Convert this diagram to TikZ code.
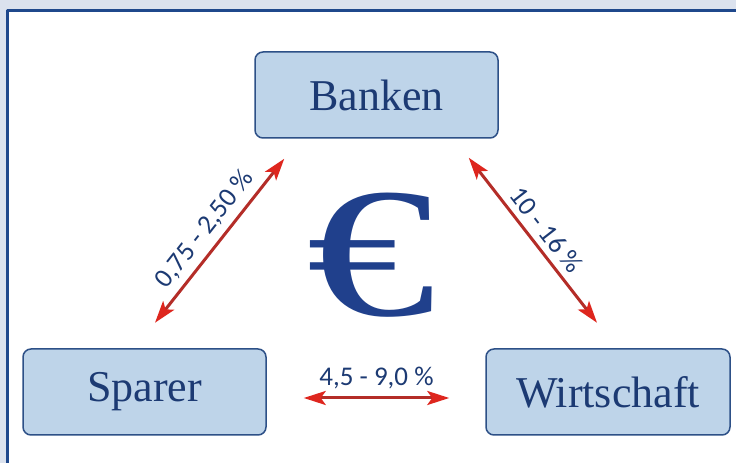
\documentclass[tikz,border=0pt]{standalone}
\usepackage{fontspec}
\usetikzlibrary{arrows.meta}
\newfontfamily\pctfont{Carlito}
\newfontfamily\eurofont{Liberation Serif}
\definecolor{backgr}{RGB}{219,226,238}
\definecolor{framec}{RGB}{31,72,140}
\definecolor{boxfill}{RGB}{190,212,233}
\definecolor{boxline}{RGB}{45,80,135}
\definecolor{textblue}{RGB}{28,58,115}
\definecolor{shaftred}{RGB}{180,45,40}
\definecolor{tipred}{RGB}{222,38,30}
\definecolor{eurob}{RGB}{32,64,140}

\begin{document}
\begin{tikzpicture}[line cap=round,line join=round,x=1pt,y=1pt,
  sector/.style={draw=boxline,line width=1.5pt,fill=boxfill,rounded corners=8pt,
    minimum width=243pt,minimum height=86pt,text=textblue,
    font=\eurofont\fontsize{44}{50}\selectfont},
  flow/.style={{Stealth[length=22pt,width=14pt,inset=5pt,color=tipred]}-{Stealth[length=22pt,width=14pt,inset=5pt,color=tipred]},
    draw=shaftred,line width=3pt},
  rate/.style={text=textblue,font=\pctfont\fontsize{27}{30}\selectfont}]
\useasboundingbox (0,0) rectangle (736,463);
\clip (0,0) rectangle (736,463);
% background and frame
\fill [backgr] (0,0) rectangle (736,463);
\draw [framec, line width=3pt, fill=white] (7.5,-20) rectangle (760,452.5);
% the three sectors
\node [sector] (banken) at (376.5,368) {Banken};
\node [sector] (sparer) at (144.5,71) {Sparer};
\node [sector, minimum width=244pt] (wirtschaft) at (608,71) {Wirtschaft};
\node [text=eurob, xscale=1.4, font=\eurofont\fontsize{185}{185}\selectfont] (euro) at (371,208) {€};
% arrow ends
\coordinate (sparerUp) at ([shift={(10.5,25.5)}]sparer.north);
\coordinate (bankenLeft) at ([shift={(30,-20)}]banken.south west);
\coordinate (bankenRight) at ([shift={(-30,-19)}]banken.south east);
\coordinate (wirtschaftUp) at ([shift={(-11,25.5)}]wirtschaft.north);
% interest flows
\draw [flow] (sparerUp) -- (bankenLeft) node [midway, sloped, above=3pt, rate] {0,75 - 2,50 \%};
\draw [flow] (bankenRight) -- (wirtschaftUp) node [midway, sloped, above=3pt, rate] {10 - 16 \%};
\draw [flow] ([xshift=37pt,yshift=-6pt]sparer.east) -- ([xshift=-36pt,yshift=-6pt]wirtschaft.west)
  node [midway, above=4pt, rate] {4,5 - 9,0 \%};
\end{tikzpicture}
\end{document}
